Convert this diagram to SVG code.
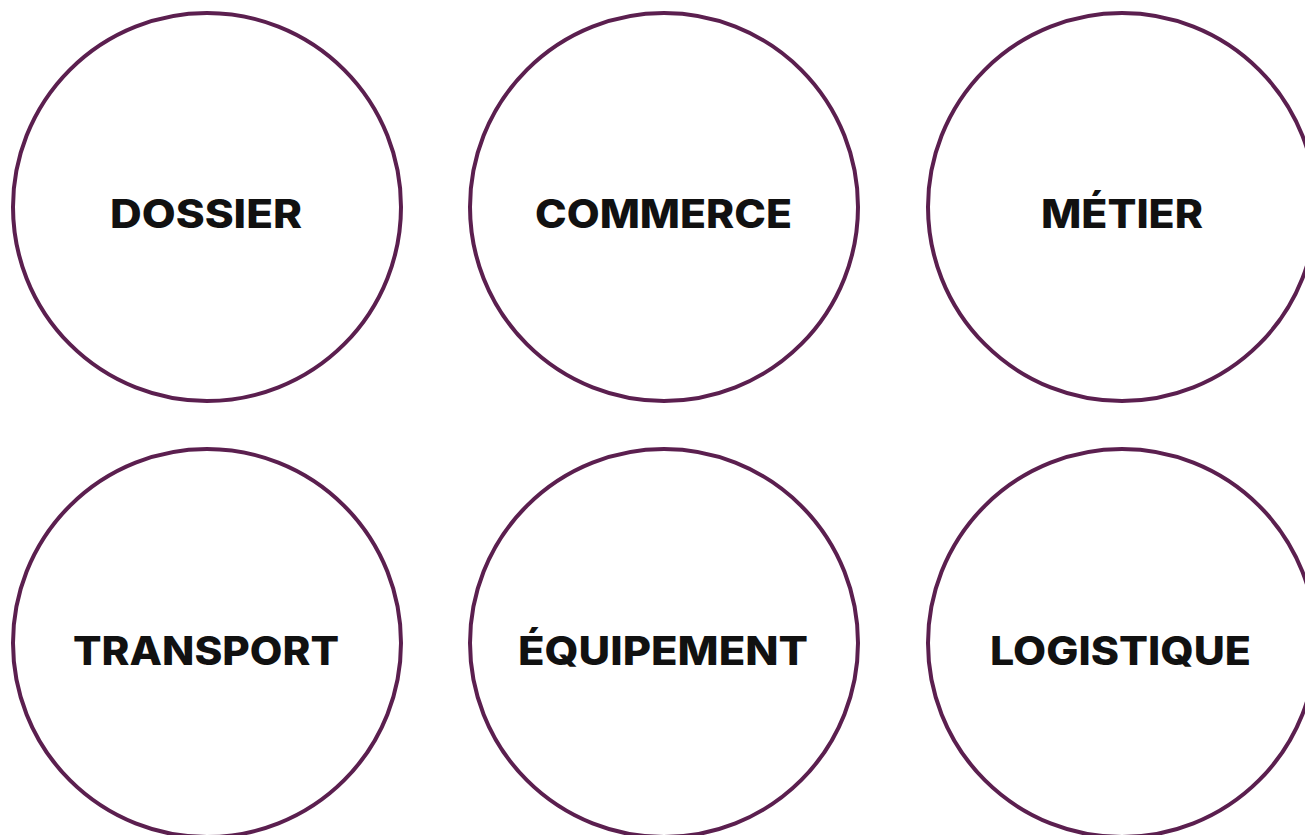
<svg xmlns="http://www.w3.org/2000/svg" width="1305" height="835" viewBox="0 0 1305 835">
<style>
.c{fill:#fff;stroke:#5b1f4f;stroke-width:4}
.t{font-family:Inter,"Liberation Sans",sans-serif;font-weight:800;font-size:39px;fill:#111;text-anchor:middle}
</style>
<rect width="1305" height="835" fill="#fff"/>
<g id="connectors"/>
<g id="n-dossier"><circle class="c" cx="207" cy="207" r="194"/><text class="t" x="206" y="228" textLength="192" lengthAdjust="spacingAndGlyphs">DOSSIER</text></g>
<g id="n-commerce"><circle class="c" cx="664" cy="207" r="194"/><text class="t" x="663.5" y="228" textLength="257" lengthAdjust="spacingAndGlyphs">COMMERCE</text></g>
<g id="n-metier"><circle class="c" cx="1122" cy="207" r="194"/><text class="t" x="1122" y="228" textLength="162" lengthAdjust="spacingAndGlyphs">MÉTIER</text></g>
<g id="n-transport"><circle class="c" cx="207" cy="643" r="194"/><text class="t" x="206" y="665" textLength="266" lengthAdjust="spacingAndGlyphs">TRANSPORT</text></g>
<g id="n-equipement"><circle class="c" cx="664" cy="643" r="194"/><text class="t" x="663" y="665" textLength="290" lengthAdjust="spacingAndGlyphs">ÉQUIPEMENT</text></g>
<g id="n-logistique"><circle class="c" cx="1122" cy="643" r="194"/><text class="t" x="1120.5" y="665" textLength="261" lengthAdjust="spacingAndGlyphs">LOGISTIQUE</text></g>
</svg>
